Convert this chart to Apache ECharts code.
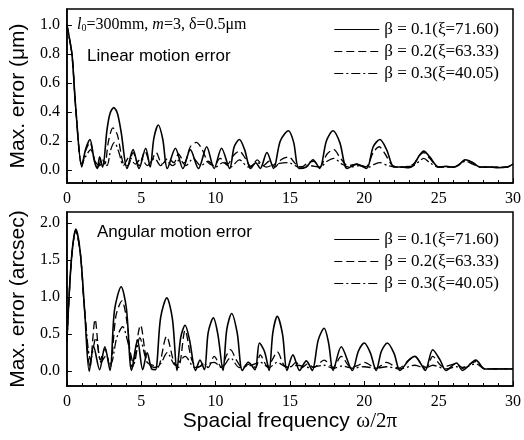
<!DOCTYPE html>
<html>
<head>
<meta charset="utf-8">
<script src="https://cdn.jsdelivr.net/npm/echarts@6/dist/echarts.min.js"></script>
<style>
  html, body { margin: 0; padding: 0; background: #fff; }
  .errChart { width: 524px; height: 440px; }
</style>
</head>
<body>
<div class="errChart"></div>
<script>
// series names (legend text)
const seriesNames = ['β = 0.1(ξ=71.60)', 'β = 0.2(ξ=63.33)', 'β = 0.3(ξ=40.05)'];

// tick labels
const xTicks = [0, 5, 10, 15, 20, 25, 30];
const linTicks = [0, 0.2, 0.4, 0.6, 0.8, 1.0];
const angTicks = [0, 0.5, 1.0, 1.5, 2.0];

// linear motion error, [spacial frequency, max error um]
const linB1 = [[0,1.00],[0.15,0.92],[0.35,0.79],[0.6,0.42],[1.0,0.02],[1.25,0.14],[1.55,0.21],[1.85,0.06],[2.05,0.01],[2.2,0.09],[2.4,0.02],[2.7,0.28],[2.9,0.39],[3.15,0.43],[3.4,0.39],[3.65,0.26],[4.05,0.01],[4.45,0.14],[4.85,0.01],[5.3,0.15],[5.6,0.02],[5.85,0.22],[6.15,0.31],[6.45,0.21],[6.75,0.01],[7.3,0.15],[7.8,0.01],[8.3,0.14],[8.85,0.01],[9.4,0.16],[9.9,0.01],[10.4,0.15],[10.95,0.01],[11.25,0.16],[11.6,0.21],[11.95,0.14],[12.35,0.01],[12.7,0.05],[13.0,0.01],[13.45,0.12],[13.9,0.01],[14.35,0.2],[14.9,0.27],[15.25,0.19],[15.6,0.01],[16.1,0.02],[16.55,0.07],[17.0,0.01],[17.45,0.2],[17.9,0.27],[18.35,0.19],[18.85,0.01],[19.5,0.04],[20.15,0.01],[20.6,0.16],[21.05,0.21],[21.5,0.14],[22.0,0.02],[22.5,0.02],[23.0,0.015],[23.3,0.03],[23.7,0.1],[24.0,0.13],[24.4,0.09],[25.0,0.02],[25.5,0.025],[26.0,0.02],[26.3,0.03],[26.8,0.07],[27.3,0.05],[27.8,0.02],[28.5,0.02],[29.0,0.015],[29.6,0.02],[30,0.04]];
const linB2 = [[0,1.00],[0.15,0.92],[0.35,0.79],[0.6,0.42],[1.0,0.03],[1.25,0.13],[1.55,0.19],[1.85,0.07],[2.1,0.02],[2.35,0.08],[2.55,0.04],[2.8,0.2],[3.1,0.29],[3.4,0.24],[3.8,0.04],[4.1,0.03],[4.45,0.12],[4.85,0.03],[5.25,0.13],[5.6,0.05],[6.0,0.12],[6.4,0.04],[6.8,0.08],[7.2,0.05],[7.5,0.11],[7.9,0.05],[8.3,0.16],[8.7,0.19],[9.1,0.14],[9.5,0.05],[9.9,0.03],[10.3,0.08],[10.8,0.04],[11.2,0.1],[11.6,0.13],[12.0,0.08],[12.4,0.02],[12.8,0.07],[13.2,0.03],[13.6,0.06],[14.0,0.02],[14.4,0.07],[14.9,0.09],[15.4,0.04],[15.8,0.02],[16.2,0.05],[16.6,0.06],[17.0,0.02],[17.5,0.11],[17.95,0.14],[18.4,0.08],[18.9,0.03],[19.5,0.04],[20.1,0.02],[20.6,0.12],[21.0,0.16],[21.4,0.11],[21.9,0.03],[22.5,0.02],[23.3,0.04],[23.7,0.1],[24.0,0.12],[24.4,0.08],[25.0,0.02],[26.0,0.02],[26.3,0.03],[26.8,0.07],[27.3,0.05],[27.8,0.02],[28.5,0.02],[29.6,0.02],[30,0.04]];
const linB3 = [[0,1.00],[0.15,0.92],[0.35,0.79],[0.6,0.42],[1.0,0.04],[1.3,0.1],[1.6,0.14],[1.9,0.06],[2.2,0.03],[2.5,0.06],[2.7,0.03],[2.95,0.14],[3.2,0.19],[3.5,0.12],[3.8,0.03],[4.2,0.09],[4.6,0.04],[5.0,0.08],[5.4,0.03],[5.9,0.08],[6.3,0.03],[6.7,0.06],[7.1,0.03],[7.6,0.07],[8.0,0.03],[8.5,0.08],[9.0,0.03],[9.5,0.06],[10.0,0.02],[10.5,0.05],[11.0,0.02],[11.6,0.07],[12.2,0.02],[12.8,0.05],[13.4,0.02],[14.0,0.04],[14.9,0.05],[15.6,0.02],[16.3,0.03],[17.0,0.02],[17.5,0.06],[17.95,0.08],[18.5,0.04],[19.0,0.02],[19.7,0.03],[20.3,0.02],[20.7,0.04],[21.05,0.05],[21.6,0.03],[22.2,0.02],[23.3,0.03],[23.7,0.06],[24.0,0.08],[24.4,0.05],[25.0,0.02],[26.0,0.02],[26.4,0.04],[26.8,0.06],[27.3,0.04],[27.8,0.02],[28.5,0.02],[29.6,0.02],[30,0.04]];

// angular motion error, [spacial frequency, max error arcsec]
const angB1 = [[0,0.4],[0.3,1.5],[0.6,1.92],[0.9,1.6],[1.2,0.8],[1.5,0.0],[1.8,0.33],[2.2,0.02],[2.55,0.33],[2.9,0.01],[3.2,0.82],[3.65,1.14],[4.0,0.85],[4.35,0.01],[4.75,0.42],[5.1,0.02],[5.4,0.25],[5.7,0.03],[5.95,0.02],[6.3,0.72],[6.72,0.99],[7.1,0.7],[7.4,0.01],[7.65,0.45],[7.95,0.62],[8.25,0.42],[8.65,0.01],[8.95,0.15],[9.25,0.02],[9.5,0.52],[9.85,0.72],[10.15,0.5],[10.5,0.01],[10.75,0.56],[11.08,0.78],[11.45,0.52],[11.8,0.01],[12.2,0.12],[12.65,0.02],[12.95,0.38],[13.3,0.26],[13.6,0.01],[13.85,0.52],[14.15,0.74],[14.5,0.5],[14.8,0.01],[15.2,0.22],[15.65,0.01],[16.1,0.14],[16.5,0.01],[16.9,0.42],[17.3,0.58],[17.6,0.38],[17.9,0.01],[18.45,0.33],[19.2,0.01],[19.6,0.27],[20.0,0.38],[20.4,0.25],[20.8,0.01],[21.15,0.27],[21.55,0.38],[22.0,0.24],[22.4,0.01],[23.0,0.15],[23.4,0.2],[23.8,0.1],[24.1,0.01],[24.6,0.29],[25.1,0.15],[25.5,0.01],[26.2,0.11],[26.6,0.01],[27.5,0.15],[28.1,0.03],[29.0,0.03],[30,0.03]];
const angB2 = [[0,0.4],[0.3,1.5],[0.6,1.9],[0.9,1.6],[1.2,0.8],[1.55,0.05],[1.9,0.7],[2.25,0.15],[2.55,0.3],[2.9,0.05],[3.3,0.75],[3.7,0.95],[4.05,0.65],[4.4,0.05],[4.95,0.62],[5.4,0.12],[5.8,0.08],[6.1,0.05],[6.7,0.47],[7.2,0.12],[7.5,0.05],[7.95,0.55],[8.4,0.15],[8.8,0.05],[9.2,0.1],[9.5,0.05],[9.9,0.2],[10.4,0.05],[10.7,0.2],[11.0,0.29],[11.4,0.15],[11.8,0.05],[12.3,0.1],[12.7,0.05],[13.0,0.22],[13.5,0.06],[13.8,0.15],[14.15,0.26],[14.6,0.08],[15.0,0.05],[15.4,0.12],[15.8,0.05],[16.2,0.1],[16.6,0.05],[17.3,0.15],[17.9,0.05],[18.45,0.2],[19.1,0.05],[19.6,0.08],[20.0,0.12],[20.8,0.04],[21.5,0.12],[22.3,0.04],[23.0,0.15],[23.4,0.2],[23.9,0.08],[24.2,0.05],[24.6,0.2],[25.3,0.06],[26.2,0.1],[26.6,0.05],[27.5,0.13],[28.1,0.03],[29.0,0.03],[30,0.03]];
const angB3 = [[0,0.4],[0.3,1.5],[0.6,1.9],[0.9,1.6],[1.2,0.8],[1.6,0.15],[1.95,0.45],[2.3,0.12],[2.6,0.2],[2.95,0.1],[3.35,0.45],[3.75,0.6],[4.15,0.35],[4.5,0.1],[4.9,0.45],[5.4,0.12],[5.9,0.05],[6.3,0.1],[6.75,0.25],[7.3,0.08],[7.95,0.2],[8.6,0.05],[9.2,0.08],[9.9,0.12],[10.4,0.05],[11.0,0.18],[11.6,0.05],[12.4,0.08],[13.0,0.12],[13.6,0.05],[14.15,0.12],[14.8,0.05],[15.5,0.08],[16.3,0.05],[17.3,0.08],[17.9,0.04],[18.5,0.07],[19.2,0.04],[20.0,0.06],[20.8,0.04],[21.5,0.06],[22.4,0.03],[23.4,0.08],[24.1,0.04],[24.6,0.08],[25.5,0.03],[26.2,0.06],[26.6,0.04],[27.5,0.1],[28.1,0.03],[29.0,0.03],[30,0.03]];

const lineTypes = ['solid', [8, 4], [9, 3, 2, 3]];
const serif = 'Liberation Serif';
const sans = 'Liberation Sans';

function xAxisFor(gridIndex, withName) {
  return {
    type: 'value', gridIndex: gridIndex, min: 0, max: 30, interval: 5,
    axisLine: { show: true, onZero: false, lineStyle: { color: '#000', width: 1.5 } },
    axisTick: { show: true, inside: true, length: 5, lineStyle: { color: '#000' } },
    minorTick: { show: true, splitNumber: 5, length: 3, lineStyle: { color: '#000' } },
    splitLine: { show: false },
    axisLabel: { color: '#000', fontFamily: serif, fontSize: 16, margin: 8,
      customValues: xTicks },
    name: withName ? '{a|Spacial frequency}  {b|ω/2π}' : '',
    nameLocation: 'middle', nameGap: 24,
    nameTextStyle: { rich: {
      a: { fontFamily: sans, fontSize: 21, color: '#000' },
      b: { fontFamily: serif, fontSize: 21, color: '#000' }
    } }
  };
}

function yAxisFor(gridIndex, min, max, ticks, name) {
  return {
    type: 'value', gridIndex: gridIndex, min: min, max: max,
    axisLine: { show: true, onZero: false, lineStyle: { color: '#000', width: 1.5 } },
    axisTick: { show: true, inside: true, length: 5, customValues: ticks, lineStyle: { color: '#000' } },
    splitLine: { show: false },
    axisLabel: { color: '#000', fontFamily: serif, fontSize: 16, margin: 7,
      customValues: ticks, formatter: v => v.toFixed(1) },
    name: name, nameLocation: 'middle', nameGap: 35,
    nameTextStyle: { fontFamily: sans, fontSize: 21, color: '#000' }
  };
}

function lineSeries(name, data, idx, axisIdx) {
  return {
    name: name, type: 'line', data: data,
    xAxisIndex: axisIdx, yAxisIndex: axisIdx,
    showSymbol: false, symbol: 'none', smooth: 0.3,
    lineStyle: { color: '#000', width: idx === 0 ? 1.6 : 1.3, type: lineTypes[idx] },
    itemStyle: { color: '#000' },
    z: 3 - idx
  };
}

function legendFor(top) {
  return {
    data: seriesNames, orient: 'vertical', right: 20, top: top,
    itemWidth: 45, itemHeight: 14, itemGap: 5, selectedMode: false,
    itemStyle: { opacity: 0 },
    lineStyle: { width: 1.2 },
    textStyle: { fontFamily: serif, fontSize: 17, color: '#000' }
  };
}

const chart = echarts.init(document.querySelector('.errChart'));
const option = {
  backgroundColor: '#fff',
  animation: false,
  grid: [
    { left: 60, right: 11, top: 9, height: 174, show: true, borderColor: '#000', borderWidth: 1.5 },
    { left: 60, right: 11, top: 212, height: 174, show: true, borderColor: '#000', borderWidth: 1.5 }
  ],
  xAxis: [xAxisFor(0, false), xAxisFor(1, true)],
  yAxis: [
    yAxisFor(0, -0.09, 1.11, linTicks, 'Max. error (μm)'),
    yAxisFor(1, -0.2, 2.15, angTicks, 'Max. error (arcsec)')
  ],
  legend: [legendFor(16), legendFor(226)],
  graphic: [
    { type: 'text', left: 77, top: 17, style: {
      text: '{i|l}{s|0}=300mm, {i|m}=3, δ=0.5μm',
      fontFamily: serif, fontSize: 16, fill: '#000',
      rich: { i: { fontStyle: 'italic', fontFamily: serif, fontSize: 16 },
              s: { fontFamily: serif, fontSize: 10, padding: [6, 0, 0, 0] } } } },
    { type: 'text', left: 87, top: 48, style: { text: 'Linear motion error',
      fontFamily: sans, fontSize: 17, fill: '#000' } },
    { type: 'text', left: 97, top: 224, style: { text: 'Angular motion error',
      fontFamily: sans, fontSize: 17, fill: '#000' } }
  ],
  series: [
    lineSeries(seriesNames[0], linB1, 0, 0),
    lineSeries(seriesNames[1], linB2, 1, 0),
    lineSeries(seriesNames[2], linB3, 2, 0),
    lineSeries(seriesNames[0], angB1, 0, 1),
    lineSeries(seriesNames[1], angB2, 1, 1),
    lineSeries(seriesNames[2], angB3, 2, 1)
  ]
};
chart.setOption(option);
</script>
</body>
</html>
